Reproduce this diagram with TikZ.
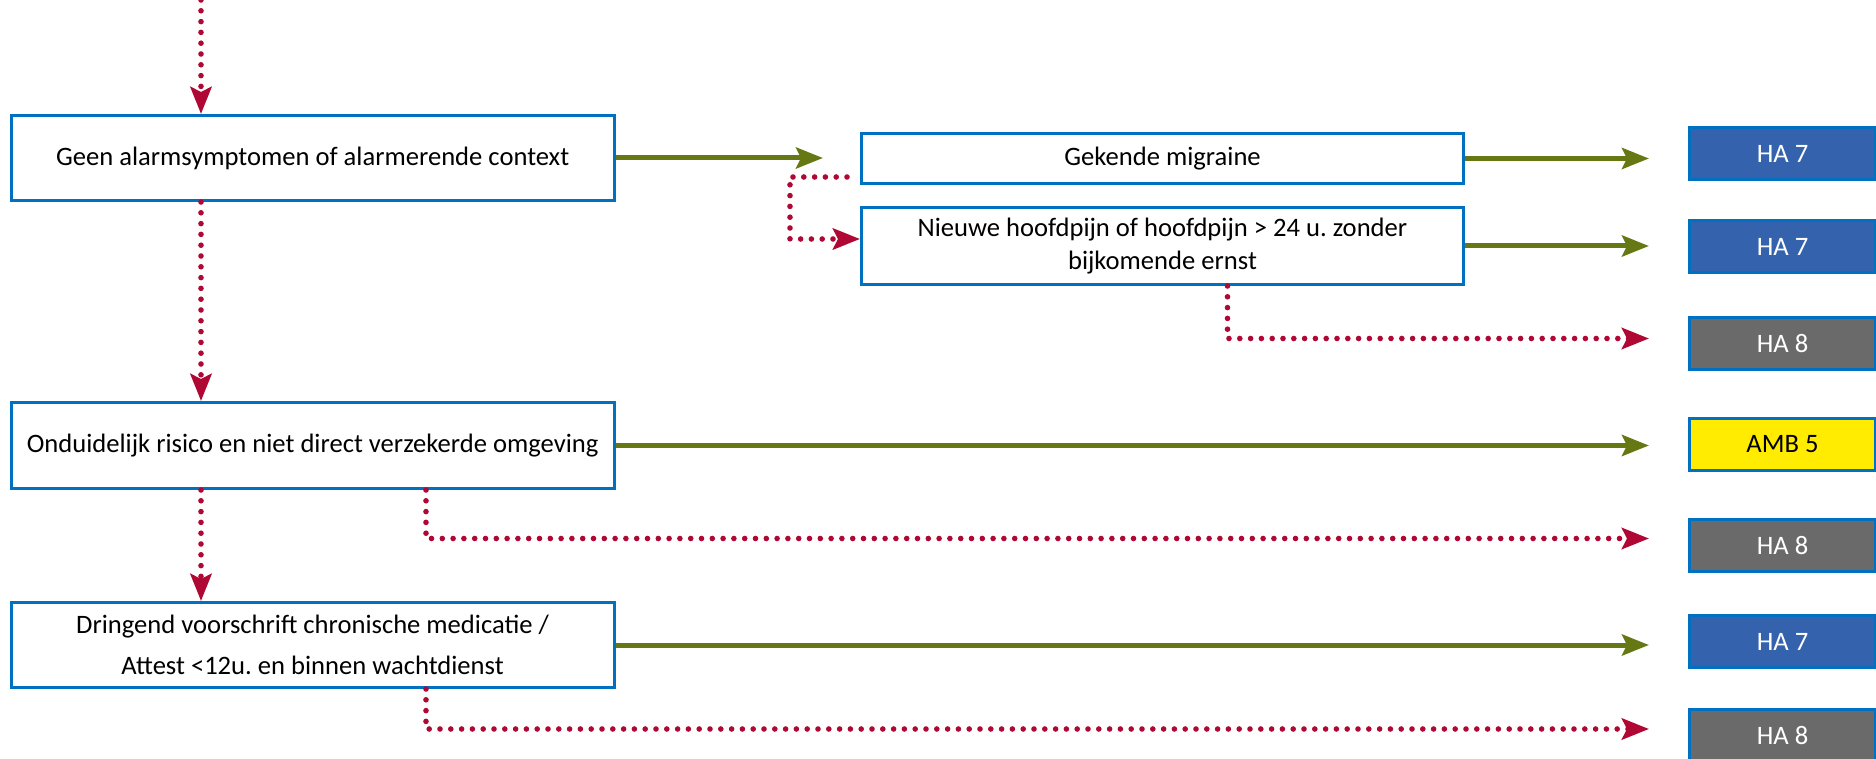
\documentclass[tikz,border=0pt]{standalone}
\usepackage{fontspec}
\setmainfont{Carlito}
\usetikzlibrary{arrows.meta}
\frenchspacing

\definecolor{boxblue}{RGB}{0,112,192}
\definecolor{okgreen}{RGB}{102,120,20}
\definecolor{nored}{RGB}{176,8,52}
\definecolor{hablue}{RGB}{52,98,173}
\definecolor{hagrey}{RGB}{106,106,106}
\definecolor{ambyellow}{RGB}{255,236,0}

\tikzset{
  txt/.style={font=\fontsize{13.3}{20.3}\selectfont},
  stepbox/.style={txt, draw=boxblue, line width=1.5pt, fill=white, align=center,
    inner sep=0pt, anchor=north west},
  outbox/.style={txt, draw=boxblue, line width=1.5pt, text=white, inner sep=0pt,
    anchor=north west, minimum width=93pt, minimum height=26pt},
  ha7/.style={outbox, fill=hablue},
  ha8/.style={outbox, fill=hagrey},
  amb/.style={outbox, fill=ambyellow, text=black},
  tip/.style={-{Stealth[length=13.5pt,width=10.5pt,inset=2.5pt]}},
  yesline/.style={tip, draw=okgreen, line width=2.5pt},
  noline/.style={tip, draw=nored, line width=2.8pt, line cap=round,
    dash pattern=on 0pt off 5.4pt},
}

\begin{document}
\begin{tikzpicture}[x=0.5pt, y=-0.5pt]
  \useasboundingbox (0,0) rectangle (1876,759);

  % left column: decision steps
  \node[stepbox, minimum width=301.5pt, minimum height=42.5pt] (geen) at (9.6,114)
    {Geen alarmsymptomen of alarmerende context};
  \node[stepbox, minimum width=301.5pt, minimum height=43pt] (ondui) at (9.6,401)
    {Onduidelijk risico en niet direct verzekerde omgeving};
  \node[stepbox, minimum width=301.5pt, minimum height=42.5pt] (dring) at (9.6,601)
    {Dringend voorschrift chronische medicatie /\\ Attest <12u. en binnen wachtdienst};

  % middle column
  \node[stepbox, minimum width=301pt, minimum height=25pt] (migr) at (860,132)
    {Gekende migraine};
  \node[stepbox, minimum width=301pt, minimum height=38.5pt,
        font=\fontsize{13.3}{16.8}\selectfont] (nieuw) at (860,206)
    {Nieuwe hoofdpijn of hoofdpijn > 24 u. zonder\\ bijkomende ernst};

  % right column: outcomes
  \node[ha7] (o1) at (1688,126) {HA 7};
  \node[ha7] (o2) at (1688,219) {HA 7};
  \node[ha8] (o3) at (1688,316) {HA 8};
  \node[amb] (o4) at (1688,417) {AMB 5};
  \node[ha8] (o5) at (1688,518) {HA 8};
  \node[ha7] (o6) at (1688,614) {HA 7};
  \node[ha8] (o7) at (1688,708) {HA 8};

  % helper coordinates for connector ends and bends
  \coordinate (vx) at (201,0);
  \coordinate (rtip) at (1649,0);
  \coordinate (gtip) at (823,0);
  \coordinate (m1) at (847,177);
  \coordinate (m2) at (790,239);
  \coordinate (n1) at (1227.5,338.5);
  \coordinate (d1) at (426,538.5);
  \coordinate (d2) at (426,729);

  % main vertical flow
  \draw[noline] (vx) -- (geen.north -| vx);
  \draw[noline] (geen.south -| vx) -- (ondui.north -| vx);
  \draw[noline] (ondui.south -| vx) -- (dring.north -| vx);

  % yes branches
  \draw[yesline] (geen.east) -- (geen.east -| gtip);
  \draw[yesline] (migr.east) -- (migr.east -| rtip);
  \draw[yesline] (nieuw.east) -- (nieuw.east -| rtip);
  \draw[yesline] (ondui.east) -- (ondui.east -| rtip);
  \draw[yesline] (dring.east) -- (dring.east -| rtip);

  % no branches
  \draw[noline] (m1) -| (m2) -- (m2 -| nieuw.west);
  \draw[noline] (nieuw.south -| n1) |- (rtip |- n1);
  \draw[noline] (ondui.south -| d1) |- (rtip |- d1);
  \draw[noline] (dring.south -| d2) |- (rtip |- d2);
\end{tikzpicture}
\end{document}
